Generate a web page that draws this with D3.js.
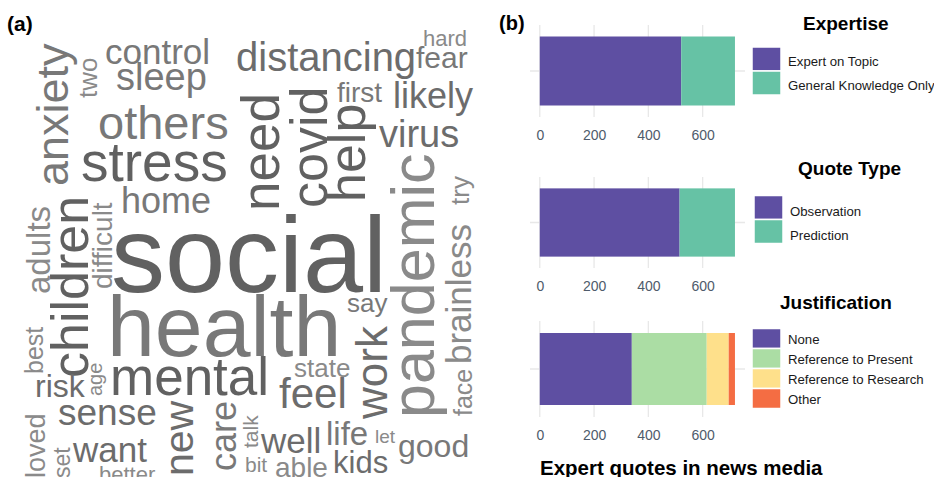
<!DOCTYPE html>
<html>
<head>
<meta charset="utf-8">
<script src="https://cdn.jsdelivr.net/npm/d3@7"></script>
<style>
  body { margin: 0; background: #fff; }
  svg { display: block; font-family: "Liberation Sans", Arial, sans-serif; }
</style>
</head>
<body>
<svg id="fig" width="934" height="477"></svg>
<script>
// ---- word cloud data (relative frequency) ----
const cloudWords = ["social", "health", "mental", "stress", "need", "covid", "help", "children",
  "pandemic", "others", "anxiety", "work", "feel", "new", "distancing", "virus", "sleep", "sense",
  "likely", "home", "care", "control", "want", "well", "brainless", "adults", "life", "risk", "good",
  "kids", "fear", "first", "difficult", "able", "loved", "two", "say", "state", "try", "best", "face",
  "set", "hard", "better", "talk", "bit", "age", "let"];
const cloudFreq = [108, 86, 53, 55, 53, 52, 52, 52,
  61, 47, 45, 44, 42, 41, 40, 38, 38, 37,
  36, 36, 36, 35, 35, 35, 35, 33, 33, 32, 32,
  31, 30, 28, 28, 28, 27, 26, 26, 26, 26, 25, 25,
  23, 22, 22, 21, 21, 20, 19];

// ---- bar chart data ----
const expertiseCats = ["Expert on Topic", "General Knowledge Only"];
const expertiseVals = [521, 198];
const quoteCats = ["Observation", "Prediction"];
const quoteVals = [515, 204];
const justCats = ["None", "Reference to Present", "Reference to Research", "Other"];
const justVals = [339, 276, 81, 23];
const xTicks = [0, 200, 400, 600];

// layout of the cloud: [x, y, rotation] and grey shade per word
const cloudPlacement = [
  [111, 292, 0], [107, 356, 0], [110, 395, 0], [81, 181, 0], [279, 211, -90], [327, 208, -90],
  [365, 202, -90], [88, 378, -90], [434, 418, -90], [98, 139, 0], [68, 186, -90], [387, 419, -90],
  [279, 408, 0], [193, 476, -90], [236, 71, 0], [379, 147, 0], [116, 90, 0], [58, 425, 0],
  [393, 108, 0], [121, 213, 0], [236, 471, -90], [105, 64, 0], [73, 462, 0], [261, 453, 0],
  [471, 364, -90], [50, 294, -90], [326, 445, 0], [35, 397, 0], [398, 457, 0], [333, 473, 0],
  [416, 68, 0], [337, 102, 0], [112, 289, -90], [275, 477, 0], [45, 478, -90], [97, 98, -90],
  [347, 312, 0], [294, 377, 0], [469, 205, -90], [43, 374, -90], [472, 416, -90], [70, 478, -90],
  [423, 46, 0], [99, 482, 0], [258, 448, -90], [245, 472, 0], [102, 396, -90], [375, 443, 0]
];
const shades = { d: "#616161", h: "#787878", md: "#6c6c6c", m: "#787878", l: "#8a8a8a" };
const cloudShade = ["d", "h", "d", "d", "d", "d", "d", "d", "l", "m", "m", "md", "md", "md", "md", "md",
  "m", "md", "md", "m", "m", "m", "md", "md", "l", "l", "m", "md", "m", "md", "m", "m", "l", "l",
  "l", "l", "m", "l", "l", "l", "l", "l", "l", "l", "l", "l", "l", "l"];

const svg = d3.select("#fig");

// ---------- (a) word cloud ----------
const fontSize = d3.scaleLinear().domain([0, d3.max(cloudFreq)]).range([0, 108]);

const words = cloudWords.map((w, i) => ({
  text: w, size: fontSize(cloudFreq[i]),
  x: cloudPlacement[i][0], y: cloudPlacement[i][1], rot: cloudPlacement[i][2],
  color: shades[cloudShade[i]]
}));

svg.append("g")
  .selectAll("text")
  .data(words)
  .join("text")
  .attr("transform", d => `translate(${d.x},${d.y}) rotate(${d.rot})`)
  .style("font-size", d => d.size + "px")
  .attr("fill", d => d.color)
  .text(d => d.text);

svg.append("text").attr("x", 7).attr("y", 31)
  .style("font-size", "21px").style("font-weight", "bold").text("(a)");
svg.append("text").attr("x", 499).attr("y", 30)
  .style("font-size", "20px").style("font-weight", "bold").text("(b)");

// ---------- (b) stacked bars ----------
const palette = {
  "Expert on Topic": "#5e4fa2", "General Knowledge Only": "#66c2a5",
  "Observation": "#5e4fa2", "Prediction": "#66c2a5",
  "None": "#5e4fa2", "Reference to Present": "#abdda4",
  "Reference to Research": "#fee08b", "Other": "#f46d43"
};

const x = d3.scaleLinear().domain([-36, 756]).range([530, 745]);

const panels = [
  { title: "Expertise", cats: expertiseCats, vals: expertiseVals, top: 25, h: 92,
    titleX: 803, titleY: 30, keyX: 752, keyTop: 47, keyH: 24, labelDy: 6.5 },
  { title: "Quote Type", cats: quoteCats, vals: quoteVals, top: 177, h: 91,
    titleX: 798, titleY: 175, keyX: 754, keyTop: 195.5, keyH: 24, labelDy: 8 },
  { title: "Justification", cats: justCats, vals: justVals, top: 321, h: 96,
    titleX: 780, titleY: 309, keyX: 752, keyTop: 328.5, keyH: 20, labelDy: 5.5 }
];

panels.forEach(p => {
  const g = svg.append("g");
  const y = d3.scaleBand().domain(["all"]).range([p.top, p.top + p.h]).padding(1 / 7);

  // grid
  g.selectAll(".vgrid").data(xTicks).join("line")
    .attr("x1", d => x(d)).attr("x2", d => x(d))
    .attr("y1", p.top).attr("y2", p.top + p.h)
    .attr("stroke", "#e8e8e8").attr("stroke-width", 1.3);
  g.append("line")
    .attr("x1", x.range()[0]).attr("x2", x.range()[1])
    .attr("y1", y("all") + y.bandwidth() / 2).attr("y2", y("all") + y.bandwidth() / 2)
    .attr("stroke", "#e8e8e8").attr("stroke-width", 1.3);

  const row = {};
  p.cats.forEach((c, i) => row[c] = p.vals[i]);
  const series = d3.stack().keys(p.cats)([row]);

  g.selectAll(".seg").data(series).join("rect")
    .attr("x", d => x(d[0][0]))
    .attr("width", d => x(d[0][1]) - x(d[0][0]))
    .attr("y", y("all"))
    .attr("height", y.bandwidth())
    .attr("fill", d => palette[d.key]);

  const axis = g.append("g")
    .attr("transform", `translate(0,${p.top + p.h})`)
    .call(d3.axisBottom(x).tickValues(xTicks).tickSize(0).tickPadding(13));
  axis.select(".domain").remove();
  axis.selectAll("text")
    .style("font-family", "Liberation Sans, Arial, sans-serif")
    .style("font-size", "14px").attr("fill", "#4f5b6b");

  // legend
  g.append("text").attr("x", p.titleX).attr("y", p.titleY)
    .style("font-size", "19px").style("font-weight", "bold").text(p.title);

  const keys = g.selectAll(".key").data(p.cats).join("g")
    .attr("transform", (d, i) => `translate(${p.keyX},${p.keyTop + i * p.keyH})`);
  keys.append("rect")
    .attr("width", 29).attr("height", p.keyH)
    .attr("fill", d => palette[d]).attr("stroke", "#fff").attr("stroke-width", 1.5);
  keys.append("text")
    .attr("x", 36).attr("y", p.keyH / 2 + p.labelDy)
    .style("font-size", "13.2px").attr("fill", "#1a1a1a")
    .text(d => d);
});

svg.append("text").attr("x", 540).attr("y", 475)
  .style("font-size", "20.5px").style("font-weight", "bold")
  .text("Expert quotes in news media");
</script>
</body>
</html>
